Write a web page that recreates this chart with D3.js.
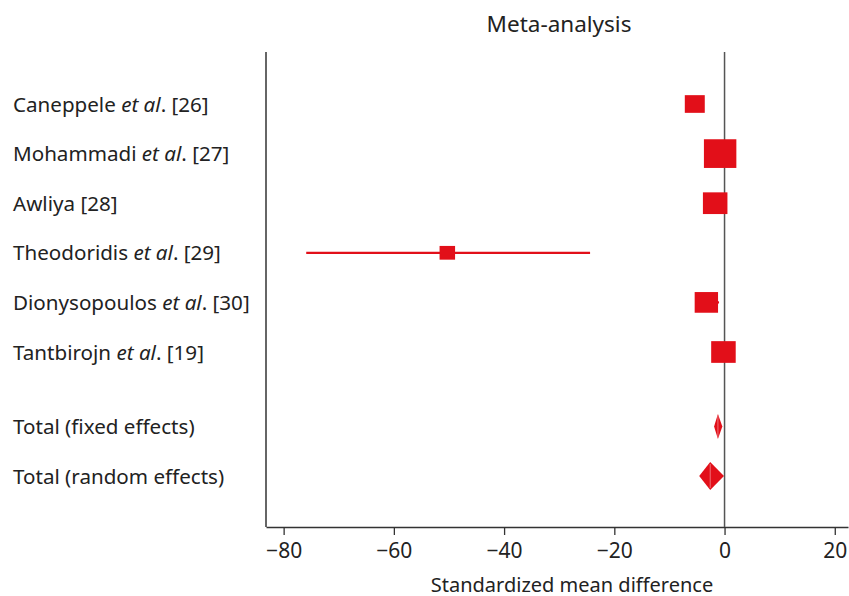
<!DOCTYPE html>
<html><head><meta charset="utf-8">
<script src="https://cdn.jsdelivr.net/npm/d3@7"></script>
<style>body{margin:0;background:#fff;} text{font-family:"Noto Sans",sans-serif;fill:#222;}</style>
</head><body>
<svg id="c" width="849" height="596"></svg>
<script>
const studyNames = ["Caneppele", "Mohammadi", "Awliya", "Theodoridis", "Dionysopoulos", "Tantbirojn"];
const studyEtAl = [true, true, false, true, true, true];
const studyRefs = ["[26]", "[27]", "[28]", "[29]", "[30]", "[19]"];
const smd = [-5.4, -0.8, -1.7, -50.3, -3.3, -0.2];
const ciLower = [-7.0, -2.5, -3.5, -75.9, -5.0, -1.8];
const ciUpper = [-3.8, 0.9, 0.1, -24.4, -1.0, 1.4];
const weights = [11.6, 30.6, 17.5, 7.0, 15.9, 17.5];
const totalLabels = ["Total (fixed effects)", "Total (random effects)"];
const totalEst = [-1.2, -2.6];
const totalLower = [-1.9, -4.6];
const totalUpper = [-0.4, -0.1];
const xTicks = [-80, -60, -40, -20, 0, 20];

const red = "#e20f19";
const svg = d3.select("#c");
const pL = 266, pR = 848, pT = 52, pB = 527;

const x = d3.scaleLinear().domain([-83.2, 22.4]).range([pL, pR]);
const y = d3.scaleLinear().domain([0, 7.5]).range([104, 476]);
const rowOf = i => i;
const totalRow = i => 6.5 + i;
const sz = d3.scaleSqrt().domain([0, 30.6]).range([0, 28.7]);

svg.append("text").attr("x", 559).attr("y", 32).attr("text-anchor", "middle")
  .attr("font-size", 22.5).text("Meta-analysis");

const labelSize = 20.6;
studyNames.forEach((n, i) => {
  const t = svg.append("text").attr("x", 13).attr("y", y(rowOf(i)) + 7.5).attr("font-size", labelSize);
  t.append("tspan").text(n + " ");
  if (studyEtAl[i]) {
    t.append("tspan").attr("font-style", "italic").text("et al");
    t.append("tspan").text(". ");
  }
  t.append("tspan").text(studyRefs[i]);
});
totalLabels.forEach((n, i) => {
  svg.append("text").attr("x", 13).attr("y", y(totalRow(i)) + 7.5).attr("font-size", labelSize).text(n);
});

const xAxis = d3.axisBottom(x).tickValues(xTicks).tickSize(8).tickSizeOuter(0).tickPadding(8);
const gx = svg.append("g").attr("transform", `translate(0,${pB})`).call(xAxis);
gx.select(".domain").attr("stroke", "#333").attr("stroke-width", 1.5);
gx.selectAll(".tick line").attr("stroke", "#333").attr("stroke-width", 1.3);
gx.selectAll(".tick text").attr("font-size", 21).attr("fill", "#222").style("font-family", "Noto Sans");

svg.append("line").attr("x1", pL).attr("x2", pL).attr("y1", pT).attr("y2", pB)
  .attr("stroke", "#333").attr("stroke-width", 1.5);
svg.append("line").attr("x1", x(0)).attr("x2", x(0)).attr("y1", pT).attr("y2", pB)
  .attr("stroke", "#555").attr("stroke-width", 1.5);

svg.append("text").attr("x", 572).attr("y", 591.5).attr("text-anchor", "middle")
  .attr("font-size", 20).text("Standardized mean difference");

smd.forEach((v, i) => {
  svg.append("line").attr("x1", x(ciLower[i])).attr("x2", x(ciUpper[i]))
    .attr("y1", y(rowOf(i))).attr("y2", y(rowOf(i)))
    .attr("stroke", red).attr("stroke-width", 2.2);
});
smd.forEach((v, i) => {
  const h = sz(weights[i]), w = h * 1.13;
  svg.append("rect").attr("x", x(v) - w / 2).attr("y", y(rowOf(i)) - h / 2)
    .attr("width", w).attr("height", h).attr("fill", red);
});
const diamondH = [25, 28];
totalEst.forEach((v, i) => {
  const cy = y(totalRow(i)), hh = diamondH[i] / 2;
  svg.append("path").attr("d",
    `M${x(totalLower[i])},${cy}L${x(v)},${cy - hh}L${x(totalUpper[i])},${cy}L${x(v)},${cy + hh}Z`)
    .attr("fill", red);
  svg.append("line").attr("x1", x(v)).attr("x2", x(v)).attr("y1", cy - hh + 2).attr("y2", cy + hh - 2)
    .attr("stroke", "#f08a8f").attr("stroke-width", 0.8);
});
</script>
</body></html>
